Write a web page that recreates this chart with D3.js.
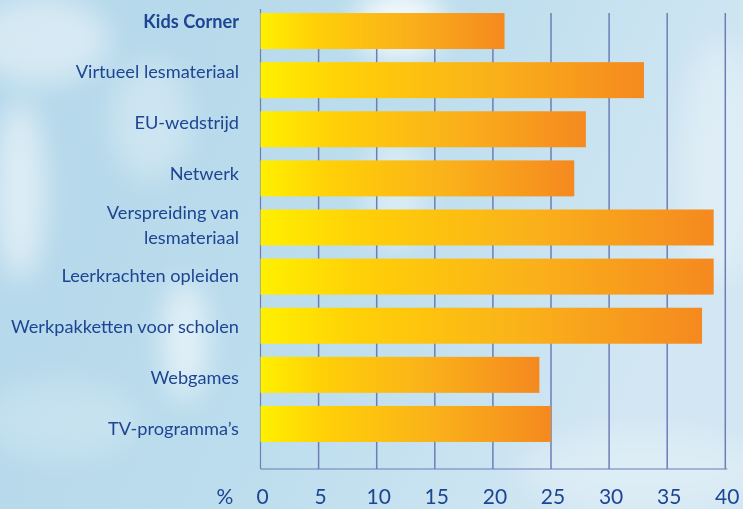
<!DOCTYPE html>
<html>
<head>
<meta charset="utf-8">
<script src="https://cdn.jsdelivr.net/npm/d3@7"></script>
<style>
  html, body { margin: 0; padding: 0; }
  body { width: 743px; height: 509px; overflow: hidden; }
</style>
</head>
<body>
<div id="chart"></div>
<script>
// categories top to bottom
const categories = [
    "Kids Corner",
    "Virtueel lesmateriaal",
    "EU-wedstrijd",
    "Netwerk",
    "Verspreiding van lesmateriaal",
    "Leerkrachten opleiden",
    "Werkpakketten voor scholen",
    "Webgames",
    "TV-programma's"
];
const values = [21, 33, 28, 27, 39, 39, 38, 24, 25];
const tickValues = [0, 5, 10, 15, 20, 25, 30, 35, 40];

const W = 743, H = 509;

const svg = d3.select("#chart").append("svg")
    .attr("width", W)
    .attr("height", H);

const defs = svg.append("defs");

// sky background
const sky = defs.append("linearGradient")
    .attr("id", "sky")
    .attr("x1", 0).attr("y1", 0).attr("x2", 1).attr("y2", 0.3);
sky.append("stop").attr("offset", "0%").attr("stop-color", "#b3d7ea");
sky.append("stop").attr("offset", "55%").attr("stop-color", "#bcdded");
sky.append("stop").attr("offset", "100%").attr("stop-color", "#d2e7f3");

const blur = defs.append("filter").attr("id", "blur")
    .attr("x", "-50%").attr("y", "-50%").attr("width", "200%").attr("height", "200%");
blur.append("feGaussianBlur").attr("stdDeviation", 14);

const barGrad = defs.append("linearGradient")
    .attr("id", "barGrad")
    .attr("x1", 0).attr("y1", 0).attr("x2", 1).attr("y2", 0);
barGrad.append("stop").attr("offset", "0%").attr("stop-color", "#fff000");
barGrad.append("stop").attr("offset", "22%").attr("stop-color", "#ffd007");
barGrad.append("stop").attr("offset", "60%").attr("stop-color", "#fab11a");
barGrad.append("stop").attr("offset", "100%").attr("stop-color", "#f5891f");

svg.append("rect")
    .attr("width", W).attr("height", H)
    .attr("fill", "url(#sky)");

// soft clouds
const clouds = [
    { cx: 40, cy: 40, rx: 70, ry: 45, o: 0.45 },
    { cx: 20, cy: 190, rx: 25, ry: 90, o: 0.55 },
    { cx: 150, cy: 120, rx: 40, ry: 60, o: 0.3 },
    { cx: 400, cy: 25, rx: 45, ry: 35, o: 0.8 },
    { cx: 395, cy: 190, rx: 30, ry: 60, o: 0.4 },
    { cx: 185, cy: 340, rx: 22, ry: 60, o: 0.6 },
    { cx: 60, cy: 420, rx: 80, ry: 40, o: 0.2 },
    { cx: 720, cy: 160, rx: 40, ry: 120, o: 0.3 },
    { cx: 640, cy: 470, rx: 120, ry: 40, o: 0.25 }
];
svg.append("g").attr("filter", "url(#blur)")
    .selectAll("ellipse")
    .data(clouds)
    .enter().append("ellipse")
    .attr("cx", d => d.cx).attr("cy", d => d.cy)
    .attr("rx", d => d.rx).attr("ry", d => d.ry)
    .attr("fill", "#ffffff")
    .attr("opacity", d => d.o);

const x = d3.scaleLinear()
    .domain([0, 40])
    .range([260.5, 725.3]);

const y = d3.scaleBand()
    .domain(categories)
    .range([6.5, 448.5])
    .paddingInner(0.267)
    .paddingOuter(0.133);

// label rows sit a little apart from the bars
const yLabel = d3.scalePoint()
    .domain(categories)
    .range([21, 428.7]);

const axisY = 469;
const gridColor = "#6f7db6";
const textColor = "#1d4592";

// grid lines
svg.append("g")
    .selectAll("line")
    .data(tickValues.filter(d => d > 0))
    .enter().append("line")
    .attr("x1", d => x(d)).attr("x2", d => x(d))
    .attr("y1", 13).attr("y2", axisY)
    .attr("stroke", gridColor)
    .attr("stroke-width", 1.5);

// left and bottom axis lines
svg.append("line")
    .attr("x1", x(0)).attr("x2", x(0))
    .attr("y1", 9).attr("y2", axisY)
    .attr("stroke", gridColor).attr("stroke-width", 1.2);
svg.append("line")
    .attr("x1", x(0)).attr("x2", x(40) + 2)
    .attr("y1", axisY).attr("y2", axisY)
    .attr("stroke", gridColor).attr("stroke-width", 1.2);

// bars
svg.append("g")
    .selectAll("rect")
    .data(categories)
    .enter().append("rect")
    .attr("x", x(0))
    .attr("y", d => y(d))
    .attr("width", (d, i) => x(values[i]) - x(0))
    .attr("height", y.bandwidth())
    .attr("fill", "url(#barGrad)");

// category labels
const labels = svg.append("g")
    .attr("font-family", "Lato, 'Open Sans', sans-serif")
    .attr("font-size", "18.2px")
    .attr("fill", textColor)
    .attr("text-anchor", "end");

categories.forEach((c, i) => {
    const t = labels.append("text")
        .attr("x", 239)
        .attr("y", yLabel(c))
        .attr("font-weight", i === 0 ? "bold" : "normal");
    const parts = c === "Verspreiding van lesmateriaal"
        ? ["Verspreiding van", "lesmateriaal"]
        : [c.replace("'", "\u2019")];
    const off = parts.length > 1 ? -6 : 6.5;
    parts.forEach((p, j) => {
        t.append("tspan")
            .attr("x", 239)
            .attr("y", yLabel(c) + off + j * 25)
            .text(p);
    });
});

// bottom tick labels
const ticks = svg.append("g")
    .attr("font-family", "Lato, 'Open Sans', sans-serif")
    .attr("font-size", "21px")
    .attr("fill", textColor)
    .attr("text-anchor", "middle");
ticks.selectAll("text")
    .data(tickValues)
    .enter().append("text")
    .attr("x", d => x(d) + 2)
    .attr("y", 504)
    .text(d => d);
ticks.append("text")
    .attr("x", 225)
    .attr("y", 504)
    .text("%");
</script>
</body>
</html>
